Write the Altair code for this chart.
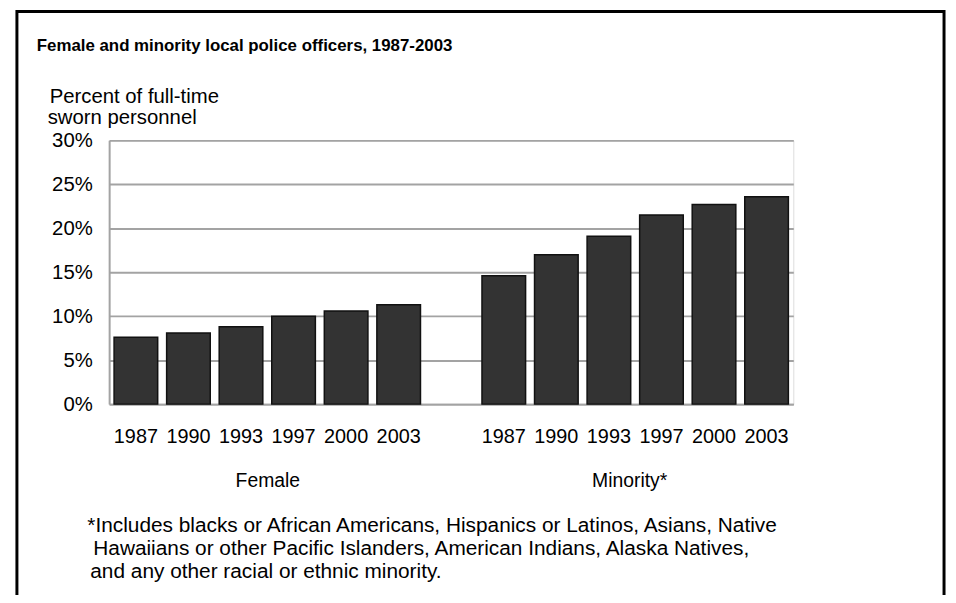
import altair as alt
import pandas as pd

years = ["1987", "1990", "1993", "1997", "2000", "2003"]
female = [7.6, 8.1, 8.8, 10.0, 10.6, 11.3]
minority = [14.6, 17.0, 19.1, 21.5, 22.7, 23.6]
groups = ["Female", "Minority*"]
y_ticks = [0, 5, 10, 15, 20, 25, 30]

title_text = "Female and minority local police officers, 1987-2003"
y_title = ["Percent of full-time", "sworn personnel"]
footnote = [
    "*Includes blacks or African Americans, Hispanics or Latinos, Asians, Native",
    "Hawaiians or other Pacific Islanders, American Indians, Alaska Natives,",
    "and any other racial or ethnic minority.",
]

rows = []
for y, v in zip(years, female):
    rows.append({"key": "F" + y, "year": y, "value": v})
for y, v in zip(years, minority):
    rows.append({"key": "M" + y, "year": y, "value": v})
df = pd.DataFrame(rows)
domain = ["F" + y for y in years] + ["gap"] + ["M" + y for y in years]

FONT = "Liberation Sans"
GRID = "#a3a3a3"

xenc = alt.X(
    "key:N",
    scale=alt.Scale(domain=domain, paddingInner=0.17, paddingOuter=0.094),
    axis=alt.Axis(
        title=None,
        labelExpr="datum.value == 'gap' ? '' : slice(datum.value, 1)",
        labelAngle=0,
        ticks=False,
        domain=True,
        domainColor=GRID,
        domainWidth=2,
        labelPadding=23,
        labelFont=FONT,
        labelFontSize=20,
        labelColor="black",
    ),
)
yenc = alt.Y(
    "value:Q",
    scale=alt.Scale(domain=[0, 30]),
    axis=alt.Axis(
        title=None,
        values=y_ticks,
        labelExpr="datum.value + '%'",
        ticks=False,
        domain=True,
        domainColor=GRID,
        domainWidth=2,
        grid=True,
        gridColor=GRID,
        gridWidth=2,
        labelPadding=17,
        labelFont=FONT,
        labelFontSize=20.5,
        labelColor="black",
    ),
)

bars = alt.Chart(df).mark_bar(
    color="#333333", stroke="#111111", strokeWidth=1.5
).encode(x=xenc, y=yenc)

border = alt.Chart(pd.DataFrame({"a": [0]})).mark_rect(
    fill="transparent", stroke="black", strokeWidth=3
).encode(
    x=alt.value(-93), x2=alt.value(842), y=alt.value(-130), y2=alt.value(520)
)

title = alt.Chart(pd.DataFrame({"t": [title_text]})).mark_text(
    font=FONT, fontSize=17, fontWeight="bold", align="left", baseline="alphabetic", color="black"
).encode(text="t:N", x=alt.value(-73), y=alt.value(-90))

ytitle = alt.Chart(pd.DataFrame({"t": y_title, "px": [-60, -62], "py": [-38, -17]})).mark_text(
    font=FONT, fontSize=20.5, align="left", baseline="alphabetic", color="black"
).encode(
    text="t:N",
    x=alt.X("px:Q", scale=None),
    y=alt.Y("py:Q", scale=None),
)

glab = alt.Chart(pd.DataFrame({"g": groups, "px": [160, 525]})).mark_text(
    font=FONT, fontSize=19.5, align="center", baseline="alphabetic", color="black"
).encode(text="g:N", x=alt.X("px:Q", scale=None), y=alt.value(350))

foot = alt.Chart(pd.DataFrame({"t": footnote, "px": [-22, -16, -19], "py": [395, 418, 441]})).mark_text(
    font=FONT, fontSize=21, align="left", baseline="alphabetic", color="black"
).encode(
    text="t:N",
    x=alt.X("px:Q", scale=None),
    y=alt.Y("py:Q", scale=None),
)

chart = alt.layer(border, bars, title, ytitle, glab, foot).properties(
    width=690,
    height=266,
    autosize=alt.AutoSizeParams(type="none"),
    padding={"left": 102, "top": 131, "right": 156, "bottom": 190},
).configure_view(stroke=GRID, strokeWidth=2).configure(background="white")

chart.save("out.html", embed_options={"renderer": "svg", "actions": False})
